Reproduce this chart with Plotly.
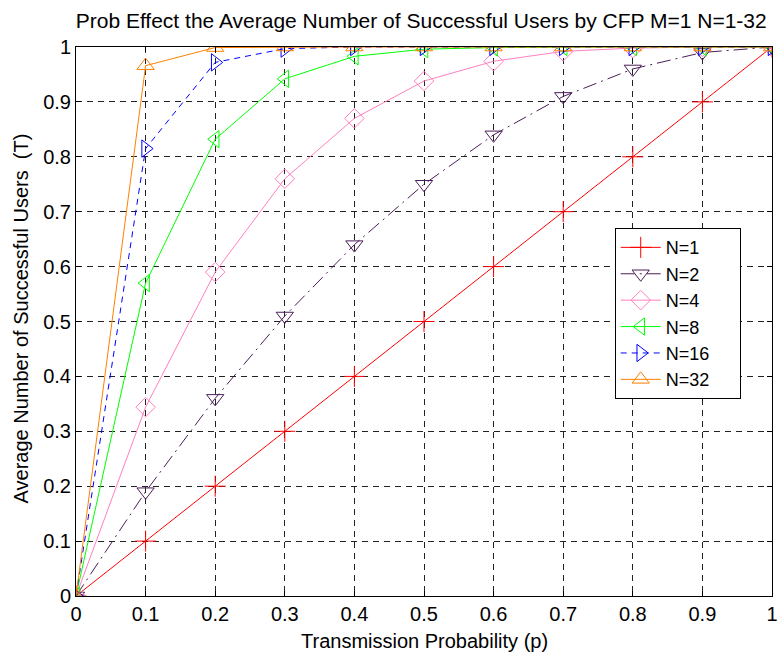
import plotly.graph_objects as go

p = [0, 0.1, 0.2, 0.3, 0.4, 0.5, 0.6, 0.7, 0.8, 0.9, 1.0]
t_n1 = [0, 0.1, 0.2, 0.3, 0.4, 0.5, 0.6, 0.7, 0.8, 0.9, 1.0]
t_n2 = [0, 0.19, 0.36, 0.51, 0.64, 0.75, 0.84, 0.91, 0.96, 0.99, 1.0]
t_n4 = [0, 0.344, 0.59, 0.76, 0.87, 0.938, 0.974, 0.992, 0.998, 1.0, 1.0]
t_n8 = [0, 0.57, 0.832, 0.942, 0.983, 0.996, 0.999, 1.0, 1.0, 1.0, 1.0]
t_n16 = [0, 0.815, 0.972, 0.997, 1.0, 1.0, 1.0, 1.0, 1.0, 1.0, 1.0]
t_n32 = [0, 0.966, 0.999, 1.0, 1.0, 1.0, 1.0, 1.0, 1.0, 1.0, 1.0]
tick_labels = ["0", "0.1", "0.2", "0.3", "0.4", "0.5", "0.6", "0.7", "0.8", "0.9", "1"]

series = [
    ("N=1", t_n1, "#FF0000", "solid", "cross-thin-open"),
    ("N=2", t_n2, "#4B1D5A", "14px,5px,2px,5px", "triangle-down-open"),
    ("N=4", t_n4, "#FF80C0", "solid", "diamond-open"),
    ("N=8", t_n8, "#00FF00", "solid", "triangle-left-open"),
    ("N=16", t_n16, "#0000FF", "6px,5px", "triangle-right-open"),
    ("N=32", t_n32, "#FF8000", "solid", "triangle-up-open"),
]

pad = "\u00a0" * 5
fig = go.Figure()
for name, vals, color, dash, sym in series:
    fig.add_trace(go.Scatter(
        x=p, y=vals, name=name + pad, mode="lines+markers",
        line=dict(color=color, width=1, dash=dash),
        marker=dict(symbol=sym, size=15, color=color, line=dict(color=color, width=1)),
    ))

font = "Liberation Sans, Arial, sans-serif"
fs = 20
axis_common = dict(
    showgrid=True, gridcolor="#222222", griddash="6px,5px", gridwidth=1,
    showline=True, linecolor="black", linewidth=1, mirror="ticks",
    ticks="inside", ticklen=5, tickcolor="black", automargin=False,
    ticklabeloverflow="allow",
    zeroline=False, tickfont=dict(size=fs, color="black", family=font),
)
fig.update_xaxes(range=[0, 1], tickvals=p, ticktext=tick_labels, **axis_common)
fig.update_yaxes(range=[0, 1], tickvals=p, ticktext=tick_labels, **axis_common)

fig.add_annotation(text="Transmission Probability (p)", xref="paper", yref="paper",
                   x=0.5, y=-0.082, xanchor="center", yanchor="middle", showarrow=False,
                   font=dict(size=fs, family=font, color="black"))
fig.add_annotation(text="Average Number of Successful Users  (T)", xref="paper", yref="paper",
                   x=-0.0795, y=0.505, xanchor="center", yanchor="middle", showarrow=False,
                   textangle=-90, font=dict(size=fs, family=font, color="black"))

fig.update_layout(
    width=777, height=653,
    margin=dict(l=76, r=5, t=47, b=57),
    paper_bgcolor="white", plot_bgcolor="white",
    title=dict(text="Prob Effect the Average Number of Successful Users by CFP M=1 N=1-32",
               font=dict(size=21, family=font, color="black"), x=0.496, xanchor="center",
               y=1 - 21 / 653, yanchor="middle", xref="paper"),
    legend=dict(x=0.774, y=0.67, xanchor="left", yanchor="top",
                bgcolor="white", bordercolor="black", borderwidth=1,
                font=dict(size=18, family=font, color="black"), itemwidth=40,
                tracegroupgap=0),
    showlegend=True,
)
fig.write_html("out.html", config={"displayModeBar": False},
               post_script="document.body.style.margin='0px';document.body.style.overflow='hidden';")
